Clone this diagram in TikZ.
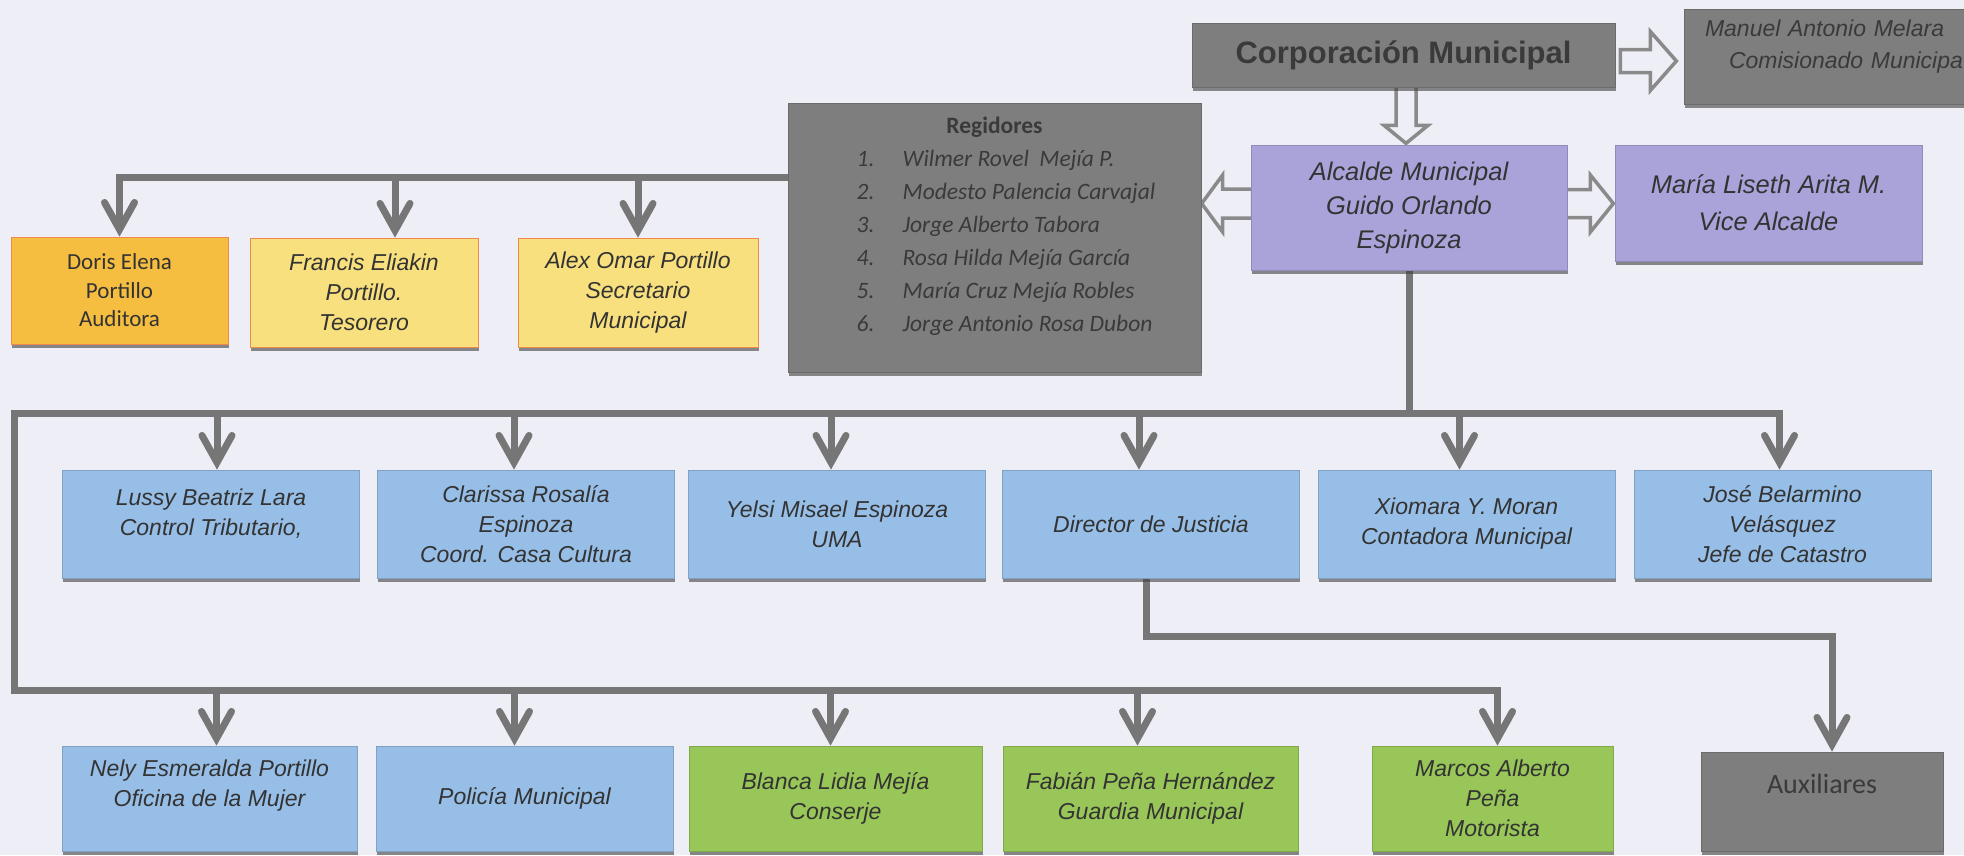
\documentclass[tikz,border=0pt]{standalone}
\usepackage{fontspec}
\setmainfont{Liberation Sans}
\newfontfamily\calfont{Carlito}
\usetikzlibrary{arrows.meta,shadows,calc,backgrounds}
\definecolor{bg}{HTML}{EEEEF6}
\definecolor{gbox}{HTML}{7E7E7E}
\definecolor{lav}{HTML}{A9A3DA}
\definecolor{bluebox}{HTML}{97BEE6}
\definecolor{greenbox}{HTML}{99C658}
\definecolor{orangebox}{HTML}{F6BE40}
\definecolor{yellowbox}{HTML}{F8E07F}
\definecolor{conncol}{HTML}{767676}
\definecolor{hollowcol}{HTML}{8A8A8A}
\definecolor{txt}{HTML}{333333}
\definecolor{gtxt}{HTML}{3A3A3A}
\definecolor{obord}{HTML}{EE8A4E}
\begin{document}
\begin{tikzpicture}[x=1pt,y=-1pt,
  box/.style={draw=#1!85!black, line width=0.7pt, fill=#1, text=txt, align=center, inner sep=0pt,
    drop shadow={shadow xshift=0.5pt, shadow yshift=-3.5pt, fill=black!75, opacity=0.6}},
  obox/.style={box=#1, draw=obord},
  ital/.style={font=\fontsize{23}{30}\selectfont\itshape},
  lavtext/.style={font=\fontsize{25.5}{34}\selectfont\itshape},
  conn/.style={draw=conncol, line width=7pt, line join=miter},
  tipv/.tip={Straight Barb[length=27pt,width=30pt,line cap=round,line join=miter]},
  arr/.style={conn, -tipv},
  barr/.style={conn, tipv-tipv},
  hollow/.style={draw=hollowcol, line width=3.5pt, fill=bg, line join=miter}
]
\useasboundingbox (0,0) rectangle (1964,855);
\begin{pgfonlayer}{background}
\fill[bg] (0,0) rectangle (1964,855);
\end{pgfonlayer}

% top
\node[box=gbox, text=gtxt, minimum width=423, minimum height=64, font=\fontsize{31}{36}\selectfont\bfseries] (corp) at (1403.5,55) {Corporación Municipal};
\node[box=gbox, text=gtxt, minimum width=301, minimum height=95, text width=259pt, align=left, font=\fontsize{23}{32}\selectfont\itshape] (manuel) at (1834.5,56.5) {Manuel Antonio Melara\\\hspace*{24pt}Comisionado Municipa\\[-16pt]\strut};

\node[box=gbox, text=gtxt, minimum width=413, minimum height=269, font=\calfont\fontsize{23.5}{33}\selectfont\itshape] (regid) at (994.5,237.5)
{\begin{tabular}{@{\hspace{23pt}}p{46pt}@{}l@{}}
\multicolumn{2}{@{}c@{}}{\upshape\bfseries Regidores}\\
1. & Wilmer Rovel\ \ Mejía P.\\
2. & Modesto Palencia Carvajal\\
3. & Jorge Alberto Tabora\\
4. & Rosa Hilda Mejía García\\
5. & María Cruz Mejía Robles\\
6. & Jorge Antonio Rosa Dubon\\[24pt]
\end{tabular}};

\node[box=lav, minimum width=316, minimum height=125, lavtext] (alcalde) at (1409,207.5) {Alcalde Municipal\\Guido Orlando\\Espinoza};
\node[box=lav, minimum width=307, minimum height=116, font=\fontsize{25.5}{37}\selectfont\itshape] (maria) at (1768.5,203) {María Liseth Arita M.\\Vice Alcalde};

\node[obox=orangebox, minimum width=217, minimum height=107, font=\calfont\fontsize{23}{28.5}\selectfont] (doris) at (119.5,290.5) {Doris Elena\\Portillo\\Auditora};
\node[obox=yellowbox, minimum width=228, minimum height=109, ital] (francis) at (364,292.5) {Francis Eliakin\\Portillo.\\Tesorero};
\node[obox=yellowbox, minimum width=240, minimum height=109, ital] (alex) at (638,292.5) {Alex Omar Portillo\\Secretario\\Municipal};

% row 2
\tikzset{r2/.style={box=bluebox, minimum width=297, minimum height=108, ital}}
\node[r2] (lussy) at (211,524) {Lussy Beatriz Lara\\Control Tributario,\\[-15pt]\strut};
\node[r2] (clarissa) at (526,524) {Clarissa Rosalía\\Espinoza\\Coord. Casa Cultura};
\node[r2] (yelsi) at (837,524) {Yelsi Misael Espinoza\\UMA};
\node[r2] (director) at (1151,524) {Director de Justicia};
\node[r2] (xiomara) at (1466.5,524) {Xiomara Y. Moran\\Contadora Municipal};
\node[r2] (jose) at (1782.5,524) {José Belarmino\\Velásquez\\Jefe de Catastro};

% row 3
\tikzset{r3/.style={box=#1, minimum height=105, ital}}
\node[r3=bluebox, minimum width=295] (nely) at (209.5,798.5) {Nely Esmeralda Portillo\\Oficina de la Mujer\\[-8pt]\strut};
\node[r3=bluebox, minimum width=297] (policia) at (524.5,798.5) {Policía Municipal};
\node[r3=greenbox, minimum width=293] (blanca) at (835.5,798.5) {Blanca Lidia Mejía\\Conserje};
\node[r3=greenbox, minimum width=295] (fabian) at (1150.5,798.5) {Fabián Peña Hernández\\Guardia Municipal};
\node[r3=greenbox, minimum width=241] (marcos) at (1492.5,798.5) {Marcos Alberto\\Peña\\Motorista};
\node[box=gbox, text=gtxt, minimum width=242, minimum height=99, font=\calfont\fontsize{28}{36}\selectfont] (aux) at (1822,801.5) {Auxiliares\\[-12pt]\strut};

\coordinate (rb) at (788,177);
\coordinate (b2L) at (14,413);
\coordinate (b3L) at (14,690);
\coordinate (djy) at (0,636);
\coordinate (auxin) at ([xshift=10pt]aux.north);

\begin{pgfonlayer}{background}
% hollow arrows
\begin{scope}[shift={(corp.east)}]
\draw[hollow] (5,-5.5)--(35,-5.5)--(35,-23.5)--(61,6)--(35,35.5)--(35,17.5)--(5,17.5)--cycle;
\end{scope}
\begin{scope}[shift={(corp.south)}]
\draw[hollow] (-7.5,-2)--(12.5,-2)--(12.5,38)--(24.5,38)--(2.5,56)--(-19.5,38)--(-7.5,38)--cycle;
\end{scope}
\begin{scope}[shift={(alcalde.west)}]
\draw[hollow] (2,-18.5)--(-28,-18.5)--(-28,-32.5)--(-49,-4)--(-28,24.5)--(-28,10.5)--(2,10.5)--cycle;
\end{scope}
\begin{scope}[shift={(alcalde.east)}]
\draw[hollow] (-2,-18)--(23,-18)--(23,-32.5)--(46,-4)--(23,24.5)--(23,10)--(-2,10)--cycle;
\end{scope}

% connectors
\draw[arr] (rb) -| (doris.north);
\draw[arr] ([xshift=31pt]francis.north |- rb) -- ([xshift=31pt]francis.north);
\draw[arr] (alex.north |- rb) -- (alex.north);

\draw[conn] (alcalde.south) -- (alcalde.south |- b2L);
\draw[barr] ([xshift=5pt]marcos.north) |- (b3L) -- (b2L) -| ([xshift=-3pt]jose.north);
\foreach \n/\s in {lussy/6,clarissa/-12,yelsi/-6,director/-12,xiomara/-7}
  \draw[arr] ([xshift=\s pt]\n.north |- b2L) -- ([xshift=\s pt]\n.north);
\foreach \n/\s in {nely/7,policia/-10,blanca/-5,fabian/-13}
  \draw[arr] ([xshift=\s pt]\n.north |- b3L) -- ([xshift=\s pt]\n.north);
\draw[arr] ([xshift=-5pt]director.south) |- (djy -| auxin) -- (auxin);
\end{pgfonlayer}
\end{tikzpicture}
\end{document}
